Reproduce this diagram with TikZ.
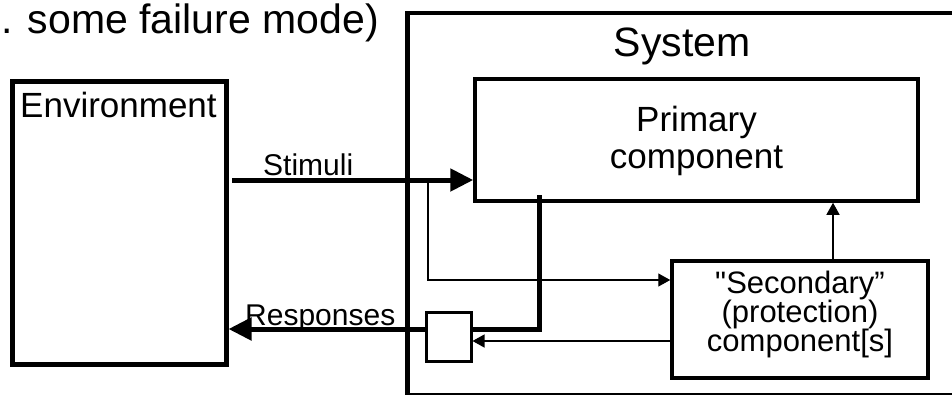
\documentclass[tikz,border=0pt]{standalone}
\usepackage{fontspec}
\setmainfont{Liberation Sans}
\newfontfamily\plainquote{Liberation Sans}[Ligatures=TeXOff]
\usetikzlibrary{arrows.meta, positioning, math}

\begin{document}
\begin{tikzpicture}[x=1pt,y=-1pt,
  box/.style={draw,line width=3.5pt,inner sep=0pt},
  big/.style={font=\fontsize{41}{45}\selectfont,inner sep=0pt},
  lbl/.style={font={\fontsize{35}{36.5}\selectfont\lineskiplimit=-50pt},align=center,inner sep=0pt},
  small/.style={font=\fontsize{30}{33}\selectfont,inner sep=0pt},
  sectext/.style={font={\fontsize{31}{29}\selectfont\lineskiplimit=-50pt},align=center,inner sep=0pt},
  flow/.style={line width=\wt pt,-{Triangle[length=23pt,width=22pt]}},
  feed/.style={line width=\wf pt,-{Triangle[length=12pt,width=13pt]}}]
\tikzmath{
\wt=5;
\wf=1.3;
}
\useasboundingbox (0,0) rectangle (952,394);
\clip (0,0) rectangle (952,394);

%environment side
\node[box,line width=\wt pt,minimum width=214,minimum height=283] (env) at (119,222.5) {};
\node[lbl,anchor=base west] (envtxt) at (20,117) {Environment};
\node[big,anchor=base east] (note) at (379,33) {. some failure mode)};

%system side
\node[box,line width=4.5pt,minimum width=600,minimum height=382,anchor=north west] (sys) at (405,10.5) {};
\node[big,anchor=base] (systxt) at (682,56) {System};

\node[box,minimum width=443,minimum height=122] (prim) at (696.5,140) {};
\node[lbl] (primtxt) at (696.5,141) {Primary\\component};
\node[box,minimum width=256,minimum height=117] (sec) at (800,319.5) {};
\node[sectext] (sectxt) at (800,314) {{\plainquote"}Secondary”\\(protection)\\component[s]};
\node[box,line width=3pt,minimum width=45,minimum height=49] (gate) at (448.5,336.5) {};

%stimuli in
\coordinate (stim) at (232,180);
\coordinate (tap) at (428,180);
\draw[flow] (stim) -- (stim -| prim.west);
\node[small,anchor=base west] (stimtxt) at (263,175) {Stimuli};
\draw[feed] (tap) |- ([yshift=39.5pt]sec.west);

%responses out
\coordinate (out) at (539,195);
\draw[line width=\wt pt] (out) |- ([yshift=7.5pt]gate.east);
\draw[flow] ([yshift=7.5pt]gate.west) -- ([yshift=7.5pt]gate.west -| env.east);
\node[small,anchor=base west] (resptxt) at (245,325) {Responses};

%protection paths
\draw[feed] ([yshift=-21.5pt]sec.west) -- ([yshift=-21.5pt]sec.west -| gate.east);
\draw[feed] ([xshift=33pt]sec.north) -- ([xshift=33pt]sec.north |- prim.south);
\end{tikzpicture}
\end{document}
